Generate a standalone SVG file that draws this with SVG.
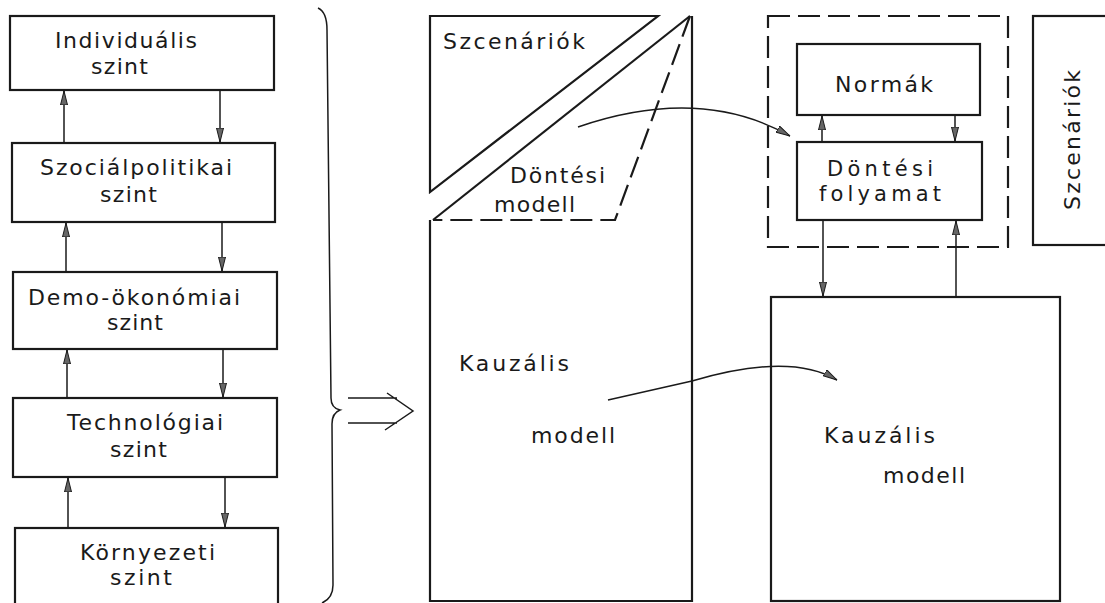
<svg xmlns="http://www.w3.org/2000/svg" width="1105" height="603" viewBox="0 0 1105 603">
<style>
.box{fill:none;stroke:#1a1a1a;stroke-width:2.2}
.dash{fill:none;stroke:#1a1a1a;stroke-width:2.2;stroke-dasharray:22 8}
.ln{fill:none;stroke:#1a1a1a;stroke-width:1.5}
.t{font-family:"DejaVu Sans","Liberation Sans",Arial,sans-serif;font-size:22px;fill:#1a1a1a}
</style>
<defs>
<marker id="ah" viewBox="0 0 14 8" refX="14" refY="4" markerWidth="14" markerHeight="8" markerUnits="userSpaceOnUse" orient="auto">
<path d="M0,0.5 L14,4 L0,7.5 Z" fill="#666" stroke="#1a1a1a" stroke-width="1"/>
</marker>
</defs>
<rect width="1105" height="603" fill="#fff"/>

<g id="individualis">
<rect class="box" x="10" y="16" width="264" height="74"/>
<text class="t" x="55" y="48" textLength="142" lengthAdjust="spacing">Individuális</text>
<text class="t" x="91" y="74" textLength="57" lengthAdjust="spacing">szint</text>
</g>
<g id="szocialpolitikai">
<rect class="box" x="12" y="143" width="263" height="79"/>
<text class="t" x="40" y="175" textLength="192" lengthAdjust="spacing">Szociálpolitikai</text>
<text class="t" x="100" y="202" textLength="57" lengthAdjust="spacing">szint</text>
</g>
<g id="demookonomiai">
<rect class="box" x="13" y="272" width="264" height="77"/>
<text class="t" x="28" y="305" textLength="212" lengthAdjust="spacing">Demo-ökonómiai</text>
<text class="t" x="107" y="330" textLength="56" lengthAdjust="spacing">szint</text>
</g>
<g id="technologiai">
<rect class="box" x="13" y="398" width="264" height="79"/>
<text class="t" x="67" y="430" textLength="156" lengthAdjust="spacing">Technológiai</text>
<text class="t" x="110" y="457" textLength="57" lengthAdjust="spacing">szint</text>
</g>
<g id="kornyezeti">
<rect class="box" x="15" y="528" width="263" height="80"/>
<text class="t" x="80" y="560" textLength="135" lengthAdjust="spacing">Környezeti</text>
<text class="t" x="110" y="585" textLength="62" lengthAdjust="spacing">szint</text>
</g>

<g id="brace">
<path class="ln" d="M318,8 Q327,12 327,30 L331,398 Q331,408 340,410 Q332,413 332,424 L333,585 Q333,598 322,603"/>
</g>

<g id="middle-model">
<path class="box" d="M430,16 L658,16 L430,192 Z"/>
<path class="box" d="M433,220 L690,16"/>
<path class="dash" d="M690,16 L615,220 L433,220"/>
<path class="box" d="M692,16 L692,601 L430,601 L430,220"/>
<text class="t" x="443" y="49" textLength="142" lengthAdjust="spacing">Szcenáriók</text>
<text class="t" x="510" y="183" textLength="95" lengthAdjust="spacing">Döntési</text>
<text class="t" x="494" y="212" textLength="81" lengthAdjust="spacing">modell</text>
<text class="t" x="459" y="371" textLength="110" lengthAdjust="spacing">Kauzális</text>
<text class="t" x="531" y="443" textLength="84" lengthAdjust="spacing">modell</text>
</g>

<g id="dontesi-keret">
<rect class="dash" x="768" y="16" width="240" height="231"/>
</g>
<g id="normak">
<rect class="box" x="797" y="44" width="183" height="71"/>
<text class="t" x="835" y="92" textLength="98" lengthAdjust="spacing">Normák</text>
</g>
<g id="dontesi-folyamat">
<rect class="box" x="797" y="142" width="185" height="78"/>
<text class="t" x="827" y="176" textLength="106" lengthAdjust="spacing" style="font-size:21px">Döntési</text>
<text class="t" x="819" y="201" textLength="122" lengthAdjust="spacing" style="font-size:21px">folyamat</text>
</g>
<g id="szcenariok-jobb">
<rect class="box" x="1033" y="16" width="90" height="229"/>
<text class="t" x="0" y="0" text-anchor="middle" textLength="140" lengthAdjust="spacing" transform="translate(1080,140) rotate(-90)">Szcenáriók</text>
</g>
<g id="kauzalis-jobb">
<rect class="box" x="771" y="297" width="289" height="304"/>
<text class="t" x="824" y="443" textLength="111" lengthAdjust="spacing">Kauzális</text>
<text class="t" x="883" y="483" textLength="82" lengthAdjust="spacing">modell</text>
</g>

<g id="connectors">
<line class="ln" x1="64" y1="143" x2="64" y2="91" marker-end="url(#ah)"/>
<line class="ln" x1="220" y1="90" x2="220" y2="142" marker-end="url(#ah)"/>
<line class="ln" x1="66" y1="272" x2="66" y2="223" marker-end="url(#ah)"/>
<line class="ln" x1="222" y1="222" x2="222" y2="271" marker-end="url(#ah)"/>
<line class="ln" x1="67" y1="398" x2="67" y2="350" marker-end="url(#ah)"/>
<line class="ln" x1="223" y1="349" x2="223" y2="397" marker-end="url(#ah)"/>
<line class="ln" x1="68" y1="528" x2="68" y2="478" marker-end="url(#ah)"/>
<line class="ln" x1="225" y1="477" x2="225" y2="527" marker-end="url(#ah)"/>
<line class="ln" x1="822" y1="142" x2="822" y2="116" marker-end="url(#ah)"/>
<line class="ln" x1="955" y1="115" x2="955" y2="141" marker-end="url(#ah)"/>
<line class="ln" x1="823" y1="220" x2="823" y2="296" marker-end="url(#ah)"/>
<line class="ln" x1="956" y1="297" x2="956" y2="221" marker-end="url(#ah)"/>
<path class="ln" d="M578,127 Q700,85 790,136" marker-end="url(#ah)"/>
<path class="ln" d="M608,400 L692,381 Q790,352 837,380" marker-end="url(#ah)"/>
<path class="ln" d="M348,398 L397,398 M348,423 L397,423 M387,393 L413,411 L385,430"/>
</g>
</svg>
